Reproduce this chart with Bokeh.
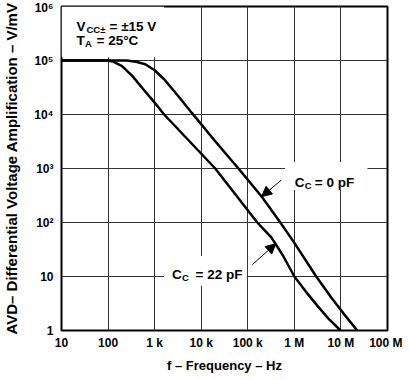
from bokeh.plotting import figure
from bokeh.models import FixedTicker, Label, Arrow, NormalHead, BoxAnnotation
from bokeh.embed import file_html
from bokeh.resources import INLINE

# ---- data ----
x_ticks = [10, 100, 1000, 10000, 100000, 1000000, 10000000, 100000000]
x_tick_labels = ["10", "100", "1 k", "10 k", "100 k", "1 M", "10 M", "100 M"]
y_ticks = [1, 10, 100, 1000, 10000, 100000, 1000000]
y_tick_labels = ["1", "10", "10²", "10³", "10⁴", "10⁵", "10⁶"]

# C_C = 0 pF
freq_cc0 = [10, 100, 250, 400, 630, 1000, 1600, 3200, 6300, 20000, 63000,
            200000, 500000, 1000000, 2950000, 6300000, 11200000, 22400000]
avd_cc0 = [100000, 100000, 100000, 95000, 85000, 66000, 45000, 22000, 10700,
           3200, 1000, 300, 100, 42, 10, 4, 2.1, 1]

# C_C = 22 pF
freq_cc22 = [10, 100, 125, 200, 330, 560, 1000, 1600, 5400, 20000, 56000,
             160000, 320000, 560000, 1000000, 1780000, 3200000, 5600000, 9800000]
avd_cc22 = [100000, 100000, 96000, 79000, 52000, 30000, 16600, 10000, 3300,
            1000, 320, 100, 53, 25, 10, 5.2, 2.8, 1.6, 1]

FONT = "Liberation Sans"

p = figure(frame_width=326, frame_height=324,
           x_axis_type="log", y_axis_type="log",
           x_range=(10, 1e8), y_range=(1, 1e6),
           output_backend="svg", toolbar_location=None,
           min_border_left=60, min_border_right=15,
           min_border_top=6, min_border_bottom=40)
p.background_fill_color = "white"
p.border_fill_color = "white"
p.outline_line_color = "black"
p.outline_line_width = 2
p.outline_line_alpha = 1

xt = FixedTicker(ticks=x_ticks, minor_ticks=[])
yt = FixedTicker(ticks=y_ticks, minor_ticks=[])
p.xaxis.ticker = xt
p.yaxis.ticker = yt
p.xgrid.ticker = xt
p.ygrid.ticker = yt
p.xaxis.major_label_overrides = dict(zip(x_ticks, x_tick_labels))
p.yaxis.major_label_overrides = dict(zip(y_ticks, y_tick_labels))

for ax in (p.xaxis, p.yaxis):
    ax.axis_line_color = None
    ax.major_tick_line_color = None
    ax.minor_tick_line_color = None
    ax.major_tick_out = 0
    ax.major_tick_in = 0
    ax.minor_tick_out = 0
    ax.minor_tick_in = 0
    ax.major_label_text_font = FONT
    ax.major_label_text_font_style = "bold"
    ax.major_label_text_font_size = "12px"
    ax.major_label_text_color = "black"
    ax.axis_label_text_font = FONT
    ax.axis_label_text_font_style = "bold"
    ax.axis_label_text_color = "black"

p.xaxis.axis_label = "f – Frequency – Hz"
p.yaxis.axis_label = "AVD– Differential Voltage Amplification – V/mV"
p.xaxis.axis_label_text_font_size = "13px"
p.yaxis.axis_label_text_font_size = "15px"
p.xaxis.major_label_standoff = 5
p.yaxis.major_label_standoff = 8
p.xaxis.axis_label_standoff = 5
p.yaxis.axis_label_standoff = 11

for g in (p.xgrid, p.ygrid):
    g.grid_line_color = "#333333"
    g.grid_line_width = 1
    g.grid_line_alpha = 1

# white boxes behind annotation texts
boxes = [
    dict(left=10, right=10 ** 3.2, bottom=10 ** 5.06, top=1e6),
    dict(left=10 ** 5.8, right=10 ** 7.57, bottom=10 ** 2.6, top=10 ** 3.12),
    dict(left=10 ** 3.2, right=10 ** 4.98, bottom=10 ** 0.83, top=10 ** 1.38),
]
for b in boxes:
    p.add_layout(BoxAnnotation(fill_color="white", fill_alpha=1,
                               line_color=None, level="underlay", **b))

p.line(freq_cc0, avd_cc0, line_color="black", line_width=2.5)
p.line(freq_cc22, avd_cc22, line_color="black", line_width=2.5)


def add_text(x, y, parts):
    for text, size, dx, dy in parts:
        p.add_layout(Label(x=x, y=y, text=text, x_offset=dx, y_offset=dy,
                           text_font=FONT, text_font_style="bold",
                           text_font_size=size, text_color="black",
                           text_align="left", text_baseline="alphabetic"))


BIG = "13.5px"
SMALL = "9.5px"
add_text(10, 1e6, [("V", BIG, 15, -20), ("CC±", SMALL, 25, -23),
                   ("= ±15 V", BIG, 48, -20),
                   ("T", BIG, 15, -34), ("A", SMALL, 23.5, -37),
                   ("= 25°C", BIG, 35, -34)])
add_text(10 ** 6.01, 10 ** 2.74, [("C", BIG, 0, 0), ("C", SMALL, 10, -3),
                                  ("= 0 pF", BIG, 20, 0)])
add_text(10 ** 3.375, 10 ** 1.036, [("C", BIG, 0, 0), ("C", SMALL, 10, -3),
                                    ("= 22 pF", BIG, 23.4, 0)])

p.add_layout(Arrow(end=NormalHead(size=10, fill_color="black", line_color="black"),
                   x_start=10 ** 5.72, y_start=10 ** 2.785,
                   x_end=10 ** 5.296, y_end=10 ** 2.48,
                   line_color="black", line_width=1))
p.add_layout(Arrow(end=NormalHead(size=10, fill_color="black", line_color="black"),
                   x_start=10 ** 5.097, y_start=10 ** 1.22,
                   x_end=10 ** 5.603, y_end=10 ** 1.607,
                   line_color="black", line_width=1))

open("out.html", "w").write(file_html(p, INLINE))
